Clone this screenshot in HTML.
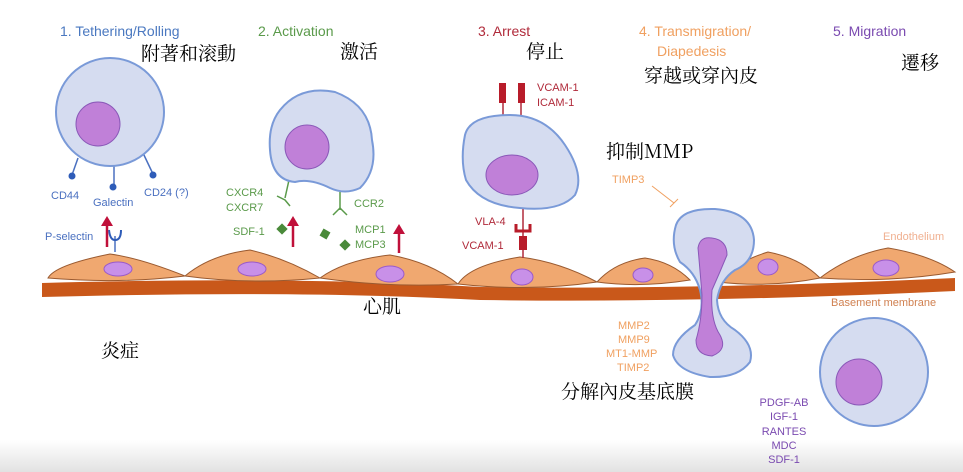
<!DOCTYPE html>
<html><head><meta charset="utf-8"><style>
html,body{margin:0;padding:0;background:#fff}
svg{display:block}
.s{font-family:"Liberation Sans",sans-serif;font-size:11px}
.c{font-family:"Noto Serif CJK SC","Noto Serif CJK TC","Liberation Serif",serif;font-size:19px;fill:#000}
</style></head><body>
<svg width="963" height="472" viewBox="0 0 963 472" xmlns="http://www.w3.org/2000/svg">
<defs>
<linearGradient id="bg" x1="0" y1="0" x2="0" y2="1"><stop offset="0" stop-color="#fff"/><stop offset="1" stop-color="#e2e2e2"/></linearGradient>
</defs>
<rect x="0" y="0" width="963" height="472" fill="#fff"/>
<rect x="0" y="440" width="963" height="32" fill="url(#bg)"/>

<!-- titles -->
<text x="60" y="36" class="s" style="font-size:14px" fill="#4a78c0">1. Tethering/Rolling</text>
<text x="258" y="36" class="s" style="font-size:14px" fill="#5a9a4a">2. Activation</text>
<text x="478" y="36" class="s" style="font-size:14px" fill="#b02a3a">3. Arrest</text>
<text x="639" y="36" class="s" style="font-size:14px" fill="#f0a060">4. Transmigration/</text>
<text x="657" y="56" class="s" style="font-size:14px" fill="#f0a060">Diapedesis</text>
<text x="833" y="36" class="s" style="font-size:14px" fill="#7a4ab0">5. Migration</text>

<text x="141" y="60" class="c">附著和滚動</text>
<text x="340" y="58" class="c">激活</text>
<text x="526" y="58" class="c">停止</text>
<text x="644" y="82" class="c">穿越或穿內皮</text>
<text x="901" y="69" class="c">遷移</text>
<text x="606" y="158" class="c">抑制MMP</text>
<text x="363" y="313" class="c">心肌</text>
<text x="101" y="357" class="c">炎症</text>
<text x="561" y="398" class="c">分解內皮基底膜</text>

<!-- basement membrane -->
<path d="M42 283 Q300 276 480 287 Q700 290 955 278 L955 291 Q700 303 480 300 Q300 290 42 297 Z" fill="#c9581a"/>
<!-- endothelial cells -->
<g fill="#f0a870" stroke="#9a5a30" stroke-width="1">
<path d="M48 278 Q55 265 110 254 Q140 258 185 276 Q120 284 48 278Z"/>
<path d="M185 276 Q210 255 250 250 Q285 258 320 278 Q250 285 185 276Z"/>
<path d="M320 278 Q345 260 390 255 Q430 262 458 284 Q390 288 320 278Z"/>
<path d="M458 284 Q470 265 520 257 Q560 262 597 282 Q530 292 458 284Z"/>
<path d="M597 282 Q615 262 645 258 Q672 262 690 280 Q640 288 597 282Z"/>
<path d="M718 282 Q735 262 768 252 Q800 258 820 278 Q770 288 718 282Z"/>
<path d="M820 278 Q850 255 888 248 Q930 255 955 272 Q890 283 820 278Z"/>
</g>
<g fill="#c890e8" stroke="#9a5ac8" stroke-width="1">
<ellipse cx="118" cy="269" rx="14" ry="7"/>
<ellipse cx="252" cy="269" rx="14" ry="7"/>
<ellipse cx="390" cy="274" rx="14" ry="8"/>
<ellipse cx="522" cy="277" rx="11" ry="8"/>
<ellipse cx="643" cy="275" rx="10" ry="7"/>
<ellipse cx="768" cy="267" rx="10" ry="8"/>
<ellipse cx="886" cy="268" rx="13" ry="8"/>
</g>

<!-- cell 1 -->
<g stroke="#4a70c0" stroke-width="1.5">
<line x1="78" y1="158" x2="72" y2="175"/><line x1="114" y1="165" x2="114" y2="185"/><line x1="143" y1="153" x2="153" y2="174"/>
<line x1="115" y1="236" x2="115" y2="252"/>
</g>
<g fill="#2e5cb8"><circle cx="72" cy="176" r="3.5"/><circle cx="113" cy="187" r="3.5"/><circle cx="153" cy="175" r="3.5"/></g>
<circle cx="110" cy="112" r="54" fill="#d5dcf0" stroke="#7a9ad8" stroke-width="2"/>
<circle cx="98" cy="124" r="22" fill="#c080d8" stroke="#8a58b8" stroke-width="1"/>
<text x="51" y="199" class="s" fill="#4a70c0">CD44</text>
<text x="93" y="206" class="s" fill="#4a70c0">Galectin</text>
<text x="144" y="196" class="s" fill="#4a70c0">CD24 (?)</text>
<text x="45" y="240" class="s" fill="#4a70c0">P-selectin</text>
<path d="M109 230 Q110 240 115 240 Q121 240 121 230" fill="none" stroke="#2e5cb8" stroke-width="2"/>

<!-- red arrows -->
<g stroke="#c0103a" stroke-width="2.5" fill="#c0103a">
<line x1="107" y1="247" x2="107" y2="222"/><polygon points="101,226 107,216 113,226" stroke="none"/>
<line x1="293" y1="247" x2="293" y2="222"/><polygon points="287,226 293,216 299,226" stroke="none"/>
<line x1="399" y1="253" x2="399" y2="230"/><polygon points="393,234 399,224 405,234" stroke="none"/>
</g>

<!-- cell 2 -->
<g stroke="#5a9a4a" stroke-width="1.5" fill="none">
<line x1="289" y1="180" x2="285" y2="198"/><path d="M277 196 L285 200 L290 206"/>
<line x1="340" y1="192" x2="340" y2="210"/><path d="M333 215 L340 208 L347 215"/>
</g>
<path d="M280 110 Q300 85 335 92 Q370 105 372 140 Q378 170 360 188 Q345 195 330 188 Q310 178 295 182 Q272 180 270 150 Q268 125 280 110Z" fill="#d5dcf0" stroke="#7a9ad8" stroke-width="2"/>
<circle cx="307" cy="147" r="22" fill="#c080d8" stroke="#8a58b8" stroke-width="1"/>
<text x="226" y="196" class="s" fill="#5a9a4a">CXCR4</text>
<text x="226" y="211" class="s" fill="#5a9a4a">CXCR7</text>
<text x="354" y="207" class="s" fill="#5a9a4a">CCR2</text>
<text x="233" y="235" class="s" fill="#5a9a4a">SDF-1</text>
<text x="355" y="233" class="s" fill="#5a9a4a">MCP1</text>
<text x="355" y="248" class="s" fill="#5a9a4a">MCP3</text>
<g fill="#4a8a3a">
<rect x="278" y="225" width="8" height="8" transform="rotate(45 282 229)"/>
<rect x="321" y="230" width="8" height="8" transform="rotate(30 325 234)"/>
<rect x="341" y="241" width="8" height="8" transform="rotate(45 345 245)"/>
</g>

<!-- cell 3 -->
<g stroke="#b02a3a" stroke-width="1.5"><line x1="503" y1="95" x2="503" y2="117"/><line x1="521" y1="95" x2="521" y2="117"/><line x1="523" y1="205" x2="523" y2="258"/></g>
<g fill="#b81c2a"><rect x="499" y="83" width="7" height="20"/><rect x="518" y="83" width="7" height="20"/>
<rect x="519" y="236" width="8" height="14"/></g>
<path d="M516 224 L516 231 L530 231 L530 224" fill="none" stroke="#b81c2a" stroke-width="3"/>
<path d="M465 135 Q470 115 510 115 Q545 115 565 145 Q585 175 575 195 Q560 212 520 208 Q480 205 466 180 Q460 160 465 135Z" fill="#d5dcf0" stroke="#7a9ad8" stroke-width="2"/>
<ellipse cx="512" cy="175" rx="26" ry="20" fill="#c080d8" stroke="#8a58b8" stroke-width="1"/>
<text x="537" y="91" class="s" fill="#b02a3a">VCAM-1</text>
<text x="537" y="106" class="s" fill="#b02a3a">ICAM-1</text>
<text x="475" y="225" class="s" fill="#b02a3a">VLA-4</text>
<text x="462" y="249" class="s" fill="#b02a3a">VCAM-1</text>

<!-- transmigrating cell -->
<text x="612" y="183" class="s" fill="#f0a060">TIMP3</text>
<line x1="652" y1="186" x2="674" y2="203" stroke="#f0a060" stroke-width="1"/>
<line x1="670" y1="207" x2="678" y2="199" stroke="#f0a060" stroke-width="1"/>
<path d="M676 225 Q682 208 715 209 Q752 212 754 240 Q754 262 735 270 Q720 280 717 300 Q718 320 735 330 Q755 345 750 362 Q738 378 710 377 Q678 372 673 355 Q673 340 695 325 Q705 310 700 290 Q695 272 680 262 Q670 245 676 225Z" fill="#d5dcf0" stroke="#7a9ad8" stroke-width="2"/>
<path d="M698 248 Q700 236 712 238 Q727 240 727 255 Q720 272 712 290 Q710 320 720 335 Q728 350 712 356 Q696 355 696 340 Q702 320 702 295 Q700 270 698 248Z" fill="#c080d8" stroke="#8a58b8" stroke-width="1"/>
<text x="618" y="329" class="s" fill="#f0a060">MMP2</text>
<text x="618" y="343" class="s" fill="#f0a060">MMP9</text>
<text x="606" y="357" class="s" fill="#f0a060">MT1-MMP</text>
<text x="617" y="371" class="s" fill="#f0a060">TIMP2</text>
<text x="883" y="240" class="s" fill="#f0b090">Endothelium</text>
<text x="831" y="306" class="s" fill="#d08050">Basement membrane</text>

<!-- cell 5 -->
<circle cx="874" cy="372" r="54" fill="#d5dcf0" stroke="#7a9ad8" stroke-width="2"/>
<circle cx="859" cy="382" r="23" fill="#c080d8" stroke="#8a58b8" stroke-width="1"/>
<g class="s" fill="#7a4ab0" text-anchor="middle">
<text x="784" y="406">PDGF-AB</text><text x="784" y="420">IGF-1</text><text x="784" y="435">RANTES</text><text x="784" y="449">MDC</text><text x="784" y="463">SDF-1</text>
</g>
</svg>
</body></html>
